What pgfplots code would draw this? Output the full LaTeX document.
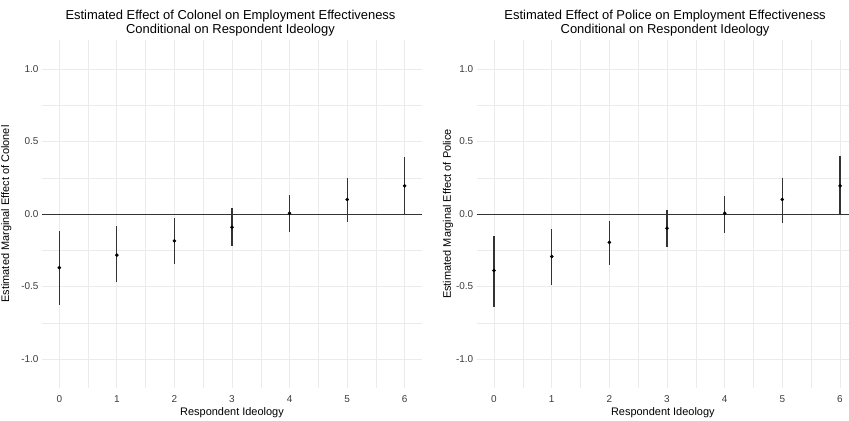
\documentclass[border=0pt]{standalone}
\usepackage{fontspec}
\setmainfont{Liberation Sans}
\usepackage{pgfplots}
\pgfplotsset{compat=1.18}
\usepackage{pgfplotstable}
\definecolor{gridc}{RGB}{235,235,235}
\definecolor{tickc}{RGB}{60,60,60}
\definecolor{barc}{RGB}{51,51,51}

\pgfplotstableread{
x y ep em
0 -0.370 0.252 0.260
1 -0.284 0.201 0.186
2 -0.185 0.160 0.159
3 -0.092 0.131 0.129
4 0.005 0.126 0.127
5 0.100 0.147 0.155
6 0.194 0.196 0.194
}\colonel

\pgfplotstableread{
x y ep em
0 -0.390 0.240 0.250
1 -0.293 0.187 0.197
2 -0.196 0.146 0.154
3 -0.099 0.127 0.129
4 0.005 0.120 0.135
5 0.100 0.147 0.160
6 0.194 0.203 0.194
}\police

\pgfplotsset{mystyle/.style={
  scale only axis, height=348bp,
  xmin=-0.3, ymin=-1.2, ymax=1.2,
  xtick={0,1,2,3,4,5,6}, ytick={-1,-0.5,0,0.5,1},
  minor xtick={0.5,1.5,2.5,3.5,4.5,5.5},
  minor ytick={-0.75,-0.25,0.25,0.75},
  grid=both,
  major grid style={gridc, line width=0.8bp},
  minor grid style={gridc, line width=0.45bp},
  axis line style={draw=none},
  major tick length=0pt, minor tick length=0pt,
  /pgf/number format/assume math mode=true,
  tick label style={font=\fontsize{10}{11}\selectfont, text=tickc},
  x tick label style={yshift=-4bp},
  y tick label style={/pgf/number format/fixed, /pgf/number format/fixed zerofill, /pgf/number format/precision=1},
  label style={font=\fontsize{11}{12}\selectfont},
  xlabel={Respondent Ideology},
  xlabel style={at={(axis description cs:0.5,-0.07)}, anchor=center},
  title style={align=center, font=\fontsize{13}{14}\selectfont, anchor=south, inner sep=0pt, yshift=-2.5bp},
}}

\begin{document}
\begin{tikzpicture}
\path[use as bounding box] (0,0) rectangle (849bp,421bp);

\begin{axis}[mystyle,
  at={(42bp,33bp)}, anchor=south west,
  width=380bp, xmax=6.3,
  title={Estimated Effect of Colonel on Employment Effectiveness\\Conditional on Respondent Ideology},
  title style={at={(0.496,1)}},
  ylabel={Estimated Marginal Effect of Colonel},
  ylabel style={at={(axis description cs:-0.094,0.5)}, anchor=center},
]
\addplot[barc, line width=0.9bp, forget plot] coordinates {(-0.3,0) (6.3,0)};
\addplot[only marks, mark=*, mark size=1.6bp, black,
  error bars/.cd, y dir=both, y explicit, error mark=none,
  error bar style={barc, line width=1.2bp}]
  table[x=x, y=y, y error plus=ep, y error minus=em] {\colonel};
\end{axis}

\begin{axis}[mystyle,
  at={(476.7bp,33bp)}, anchor=south west,
  width=372.3bp, xmax=6.156,
  title={Estimated Effect of Police on Employment Effectiveness\\Conditional on Respondent Ideology},
  title style={at={(0.506,1)}},
  ylabel={Estimated Marginal Effect of Police},
  ylabel style={at={(axis description cs:-0.077,0.5)}, anchor=center},
]
\addplot[barc, line width=0.9bp, forget plot] coordinates {(-0.3,0) (6.156,0)};
\addplot[only marks, mark=*, mark size=1.6bp, black,
  error bars/.cd, y dir=both, y explicit, error mark=none,
  error bar style={barc, line width=1.2bp}]
  table[x=x, y=y, y error plus=ep, y error minus=em] {\police};
\end{axis}
\end{tikzpicture}
\end{document}
